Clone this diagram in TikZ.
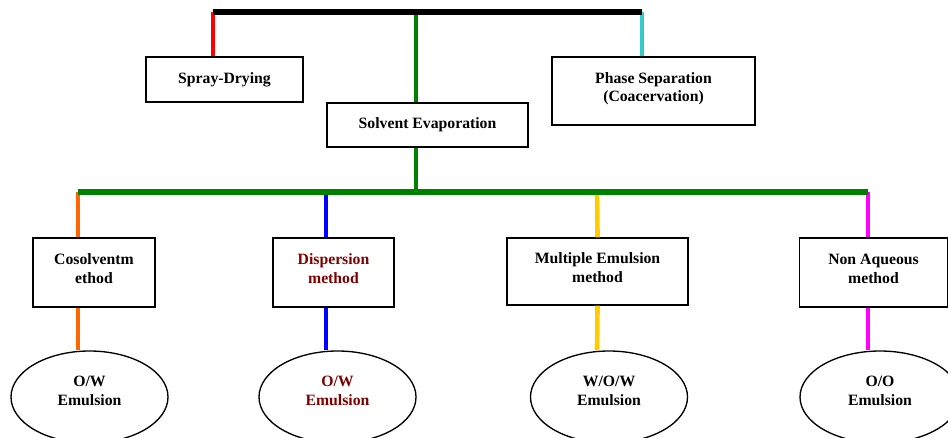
\documentclass[tikz,border=0pt]{standalone}
\usepackage{fontspec}
\setmainfont{Liberation Serif}
\usepackage{tikz}
\usetikzlibrary{shapes,positioning}
\definecolor{darkgreen}{RGB}{0,128,0}
\definecolor{cyanline}{RGB}{51,204,204}
\definecolor{orangeline}{RGB}{255,102,0}
\definecolor{goldline}{RGB}{255,204,0}
\definecolor{magentaline}{RGB}{255,0,255}
\definecolor{maroontext}{RGB}{128,0,0}
\tikzset{
    method/.style = {rectangle, draw=black, line width=1pt, fill=white, inner sep=0pt, text centered, align=center, font=\bfseries\fontsize{11.8}{14}\selectfont},
    twoline/.style = {text depth=6pt},
    emulsion/.style = {ellipse, draw=black, line width=1pt, fill=white, inner sep=0pt, minimum width=117.75pt, minimum height=69pt, text depth=9pt, text centered, align=center, font=\bfseries\fontsize{11.8}{14}\selectfont},
    bar/.style = {line width=3.8pt},
    branch/.style = {line width=3.5pt}
}

\begin{document}
\begin{tikzpicture}[x=0.75pt, y=-0.75pt]
    \clip (0,0) rectangle (948,437);
    \useasboundingbox (0,0) rectangle (948,437);

    % Nodes
    \node [method, minimum width=117.75pt, minimum height=33.75pt] (spray) at (224.5,79.5) {Spray-Drying};
    \node [method, minimum width=150.75pt, minimum height=33pt] (solvent) at (427.5,125) {Solvent Evaporation};
    \node [method, twoline, minimum width=152.25pt, minimum height=51pt] (phase) at (653.5,91) {Phase Separation\\(Coacervation)};
    \node [method, twoline, minimum width=91.5pt, minimum height=51.75pt] (cosolvent) at (94,272.5) {Cosolventm\\ethod};
    \node [method, twoline, minimum width=90.75pt, minimum height=51.75pt, text=maroontext] (dispersion) at (333.5,272.5) {Dispersion\\method};
    \node [method, twoline, minimum width=135.75pt, minimum height=50.25pt] (multiple) at (597.5,271.5) {Multiple Emulsion\\method};
    \node [method, twoline, minimum width=111pt, minimum height=51.75pt] (nonaqueous) at (873.5,272.5) {Non Aqueous\\method};
    \node [emulsion] (ow1) at (89.5,397) {O/W\\Emulsion};
    \node [emulsion, text=maroontext] (ow2) at (337.5,397) {O/W\\Emulsion};
    \node [emulsion] (wow) at (609,397) {W/O/W\\Emulsion};
    \node [emulsion, minimum width=120pt] (oo) at (880,397) {O/O\\Emulsion};

    % Bar points
    \coordinate (topleft) at (213,12);
    \coordinate (topmid) at (416,12);
    \coordinate (topright) at (642,12);
    \coordinate (midbar) at (416,192);
    \coordinate (barleft) at (78,192);
    \coordinate (barright) at (868,192);

    % Lines
    \draw [branch, red] (topleft) -- (topleft |- spray.north);
    \draw [branch, darkgreen] (topmid) -- (topmid |- solvent.north);
    \draw [branch, cyanline] (topright) -- (topright |- phase.north);
    \draw [branch, darkgreen] (midbar |- solvent.south) -- (midbar);
    \draw [branch, orangeline] (barleft) -- (barleft |- cosolvent.north);
    \draw [branch, orangeline] (barleft |- cosolvent.south) -- (barleft |- ow1.north);
    \draw [branch, blue] (326,192) -- (326,192 |- dispersion.north);
    \draw [branch, blue] (326,192 |- dispersion.south) -- (326,192 |- ow2.north);
    \draw [branch, goldline] (597,192) -- (multiple.north);
    \draw [branch, goldline] (multiple.south) -- (597,192 |- wow.north);
    \draw [branch, magentaline] (barright) -- (barright |- nonaqueous.north);
    \draw [branch, magentaline] (barright |- nonaqueous.south) -- (barright |- oo.north);
    \draw [bar, black] (topleft) -- (topright);
    \draw [bar, darkgreen] (barleft) -- (barright);
\end{tikzpicture}
\end{document}
